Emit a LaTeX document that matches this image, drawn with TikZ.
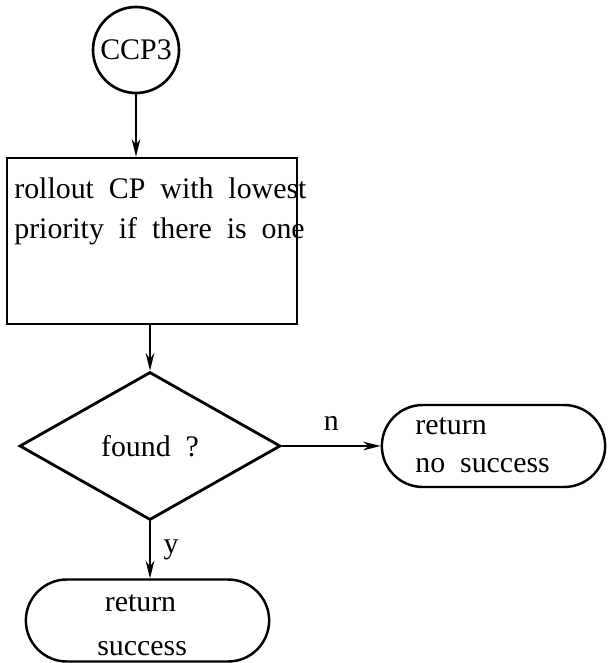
\documentclass[tikz,border=0pt]{standalone}
\usepackage{fontspec}
\setmainfont{Liberation Serif}
\usetikzlibrary{positioning}
\usetikzlibrary{shapes.geometric, shapes.misc, arrows, arrows.meta}
\tikzstyle{startnode} = [circle, draw=black, line width=1.5pt, minimum size=1.72cm, inner sep=0pt]
\tikzstyle{procbox} = [rectangle, draw=black, line width=1.6pt, minimum width=5.8cm, minimum height=3.32cm]
\tikzstyle{decision} = [diamond, draw=black, line width=1.6pt, minimum width=5.22cm, minimum height=2.96cm, aspect=1.76, inner sep=0pt]
\tikzstyle{term} = [rounded rectangle, draw=black, line width=1.4pt, minimum height=1.64cm]
\tikzstyle{txt} = [align=left, inner sep=0pt, font=\fontsize{17}{22.8}\selectfont]
\tikzstyle{arrow} = [line width=0.9pt,-{Stealth[length=10pt, width=5pt]}]

\begin{document}
\begin{tikzpicture}
      \useasboundingbox (0,0) rectangle (12.18,-13.26);
      %%%%%%%%%%%%%%%%%%%%%%%%%%%%%%%%%%%%%%%
      \node (ccp) [startnode] at (2.72,-1.0) {\fontsize{17}{20}\selectfont CCP3};
      \node (rollout) [procbox] at (3.04,-4.82) {};
      \node (rolltext) [txt, anchor=north west] at (0.28,-3.55) {rollout\ \ CP\ \ with\ \ lowest\\priority\ \ if\ \ there\ \ is\ \ one};
      \node (found) [decision] at (3.0,-8.92) {\fontsize{17}{20}\selectfont found\ \ ?};
      \node (nosucc) [term, minimum width=4.7cm] at (9.87,-8.92) {};
      \node (nosucctext) [txt, anchor=west, font=\fontsize{17}{21.6}\selectfont] at (8.3,-8.9) {return\\no\ \ success};
      \node (succ) [term, minimum width=5.1cm] at (2.95,-12.41) {};
      \node (succtext) [txt, anchor=west, font=\fontsize{17}{25}\selectfont] at (1.94,-12.5) {\ return\\success};
      %%%%%%%%%%%%%%%%%%%%%%%%%%%%%%%%%%%%%%%
      \draw[arrow] (ccp.south) -- (ccp.south |- rollout.north);
      \draw[arrow] (rollout.south -| found.north) -- (found.north);
      \draw[arrow] (found.east) -- node[above=5pt, font=\fontsize{17}{20}\selectfont] (nlabel) {n} (nosucc.west);
      \draw[arrow] (found.south) -- node[right=4pt, font=\fontsize{17}{20}\selectfont] (ylabel) {y} (found.south |- succ.north);
      \end{tikzpicture}
\end{document}
